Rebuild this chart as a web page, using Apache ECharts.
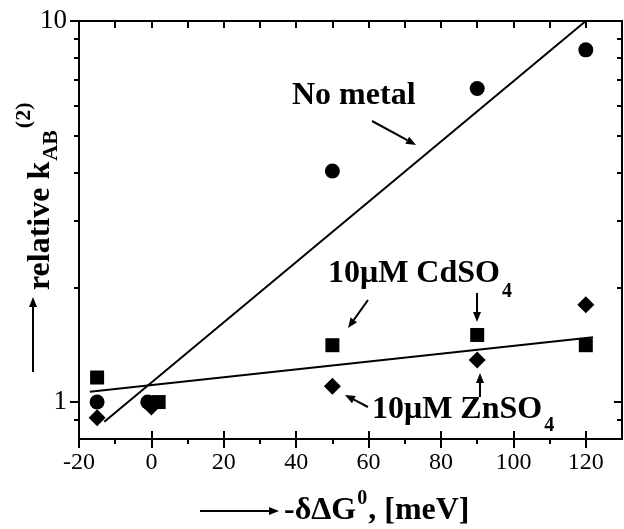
<!DOCTYPE html>
<html><head><meta charset="utf-8">
<script src="https://cdn.jsdelivr.net/npm/echarts@6/dist/echarts.min.js"></script>
<style>html,body{margin:0;padding:0;background:#fff}#c{width:624px;height:529px}</style>
</head><body><div id="c"></div>
<script>
// ---- data ----
const noMetalX = [-15, -1, 50, 90, 120];
const noMetalY = [1.0, 1.0, 4.04, 6.65, 8.4];
const cdX = [-15, 2, 50, 90, 120];
const cdY = [1.16, 1.0, 1.41, 1.50, 1.41];
const znX = [-15, 0, 50, 90, 120];
const znY = [0.91, 0.97, 1.10, 1.29, 1.80];
const fitNoMetalX = [-13, 120];
const fitNoMetalY = [0.888, 10];
const fitMetalX = [-17, 122];
const fitMetalY = [1.065, 1.48];
const xTickLabels = [-20, 0, 20, 40, 60, 80, 100, 120];
const yTickLabels = [1, 10];
const yMinorTicks = [0.9, 2, 3, 4, 5, 6, 7, 8, 9];
const yRightTicks = [0.9, 2, 3, 4, 5, 6, 7, 8, 9];

const FONT = '"Liberation Serif", "Times New Roman", serif';
const mctx = document.createElement('canvas').getContext('2d');
function tw(t, size) { mctx.font = 'bold ' + size + 'px ' + FONT; return mctx.measureText(t).width; }
function zip(xs, ys) { return xs.map((x, i) => [x, ys[i]]); }

function txt(x, y, t, size) {
  return { type: 'text', x: x, y: y, z: 100,
    style: { text: t, font: 'bold ' + size + 'px ' + FONT, fill: '#000',
      align: 'left', verticalAlign: 'middle', textAlign: 'left', textVerticalAlign: 'middle' } };
}
function arrow(x1, y1, x2, y2) {
  const L = Math.hypot(x2 - x1, y2 - y1), dx = (x2 - x1) / L, dy = (y2 - y1) / L;
  const hl = 10, hw = 4;
  const bx = x2 - dx * hl, by = y2 - dy * hl;
  return { type: 'group', z: 100, children: [
    { type: 'line', shape: { x1: x1, y1: y1, x2: bx, y2: by }, style: { stroke: '#000', lineWidth: 2 } },
    { type: 'polygon', shape: { points: [[x2, y2], [bx - dy * hw, by + dx * hw], [bx + dy * hw, by - dx * hw]] }, style: { fill: '#000' } }
  ] };
}

const ANN = 32, SUB = 20;
const graphics = [];
// No metal
graphics.push(txt(292, 96, 'No metal', ANN));
graphics.push(arrow(372, 121, 416, 145));
// CdSO4
(function () {
  const s = '10\u03bcM CdSO', x0 = 328, w = tw(s, ANN);
  graphics.push(txt(x0, 274, s, ANN));
  graphics.push(txt(x0 + w + 2, 292, '4', SUB));
})();
graphics.push(arrow(368, 300, 348, 328));
graphics.push(arrow(477, 293, 477, 322));
// ZnSO4
(function () {
  const s = '10\u03bcM ZnSO', x0 = 372, w = tw(s, ANN);
  graphics.push(txt(x0, 410, s, ANN));
  graphics.push(txt(x0 + w + 2, 426, '4', SUB));
})();
graphics.push(arrow(368, 407, 345, 395));
graphics.push(arrow(480, 397, 480, 373));
// y-axis title (rotated)
(function () {
  const F = 32, f = 22;
  const s1 = 'relative k', w1 = tw(s1, F), w2 = tw('AB', f);
  graphics.push({ type: 'group', x: 52, y: 290, rotation: Math.PI / 2, z: 100, children: [
    txt(0, -0.34 * F, s1, F),
    txt(w1 + 1, -0.34 * f + 7, 'AB', f),
    txt(w1 + w2 + 3, -0.34 * f - 20, '(2)', f)
  ] });
  graphics.push(arrow(33, 372, 33, 297));
})();
// x-axis title
(function () {
  const F = 32, f = 20, x0 = 284, y = 511;
  const s1 = '-\u03b4\u0394G', w1 = tw(s1, F), w2 = tw('0', f);
  graphics.push(txt(x0, y, s1, F));
  graphics.push(txt(x0 + w1 + 1, y - 12, '0', f));
  graphics.push(txt(x0 + w1 + w2 + 2, y, ', [meV]', F));
  graphics.push(arrow(200, 511, 279, 511));
})();

const chart = echarts.init(document.getElementById('c'), null, { renderer: 'canvas' });
const black = '#000';
const isDecade = v => Math.abs(Math.log10(v) - Math.round(Math.log10(v))) < 1e-6;

chart.setOption({
  animation: false,
  backgroundColor: '#fff',
  grid: { left: 79, top: 21, width: 543, height: 418, containLabel: false },
  xAxis: [
    { type: 'value', position: 'bottom', min: -20, max: 130, interval: 20,
      axisLine: { show: true, onZero: false, lineStyle: { color: black, width: 2 } },
      axisTick: { show: true, inside: true, length: 8, lineStyle: { color: black, width: 2 } },
      axisLabel: { show: true, margin: 12, color: black, fontFamily: FONT, fontSize: 24, customValues: xTickLabels,
        formatter: v => (xTickLabels.indexOf(Math.round(v)) >= 0 ? String(Math.round(v)) : '') },
      splitLine: { show: false }, minorTick: { show: false } },
    { type: 'value', position: 'bottom', min: -20, max: 130, interval: 20,
      axisLine: { show: false, onZero: false },
      axisTick: { show: true, inside: false, length: 9, lineStyle: { color: black, width: 2 }, customValues: xTickLabels },
      minorTick: { show: true, splitNumber: 2, length: 5, lineStyle: { color: black, width: 2 } },
      axisLabel: { show: false }, splitLine: { show: false } },
    { type: 'value', position: 'top', min: -20, max: 130, interval: 10,
      axisLine: { show: true, onZero: false, lineStyle: { color: black, width: 2 } },
      axisTick: { show: true, inside: true, length: 7, lineStyle: { color: black, width: 2 } },
      axisLabel: { show: false }, splitLine: { show: false } }
  ],
  yAxis: [
    { type: 'log', logBase: 10, position: 'left', min: 0.8, max: 10,
      axisLine: { show: true, onZero: false, lineStyle: { color: black, width: 2 } },
      axisTick: { show: true, inside: false, length: 9, lineStyle: { color: black, width: 2 }, customValues: yTickLabels },
      axisLabel: { show: true, margin: 12, color: black, fontFamily: FONT, fontSize: 27, customValues: yTickLabels,
        formatter: v => (isDecade(v) ? String(Math.round(v)) : '') },
      splitLine: { show: false } },
    { type: 'log', logBase: 10, position: 'left', min: 0.8, max: 10,
      axisLine: { show: false, onZero: false },
      axisTick: { show: true, inside: false, length: 5, lineStyle: { color: black, width: 2 }, customValues: yMinorTicks },
      axisLabel: { show: false }, splitLine: { show: false } },
    { type: 'log', logBase: 10, position: 'right', min: 0.8, max: 10,
      axisLine: { show: true, onZero: false, lineStyle: { color: black, width: 2 } },
      axisTick: { show: true, inside: true, length: 8, lineStyle: { color: black, width: 2 }, customValues: [1] },
      axisLabel: { show: false }, splitLine: { show: false } },
    { type: 'log', logBase: 10, position: 'right', min: 0.8, max: 10,
      axisLine: { show: false, onZero: false },
      axisTick: { show: true, inside: true, length: 5, lineStyle: { color: black, width: 2 }, customValues: yRightTicks },
      axisLabel: { show: false }, splitLine: { show: false } }
  ],
  series: [
    { type: 'line', data: zip(fitNoMetalX, fitNoMetalY), showSymbol: false, symbol: 'none',
      lineStyle: { color: black, width: 2 }, z: 2 },
    { type: 'line', data: zip(fitMetalX, fitMetalY), showSymbol: false, symbol: 'none',
      lineStyle: { color: black, width: 2 }, z: 2 },
    { type: 'scatter', data: zip(noMetalX, noMetalY), symbol: 'circle', symbolSize: 15,
      itemStyle: { color: black, opacity: 1 }, z: 3 },
    { type: 'scatter', data: zip(znX, znY), symbol: 'diamond', symbolSize: 17,
      itemStyle: { color: black, opacity: 1 }, z: 3 },
    { type: 'scatter', data: zip(cdX, cdY), symbol: 'rect', symbolSize: 14,
      itemStyle: { color: black, opacity: 1 }, z: 3 }
  ],
  graphic: graphics
});
</script></body></html>
